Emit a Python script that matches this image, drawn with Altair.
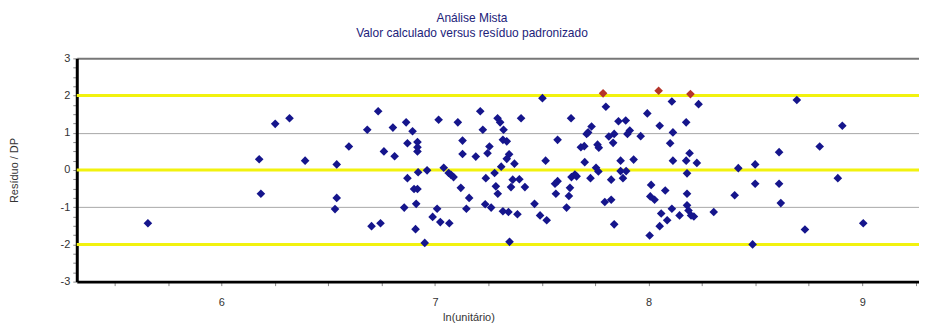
import altair as alt
import pandas as pd

# ---- data ----
ln_unitario = [
    5.656, 6.177, 6.185, 6.252, 6.319, 6.392, 6.540, 6.540, 6.532, 6.597,
    6.683, 6.734, 6.761, 6.811, 6.803, 6.865, 6.895, 6.871, 6.918, 6.918,
    6.918, 6.921, 6.871, 6.902, 6.918, 6.912, 6.856, 6.703, 6.745, 6.909,
    6.952, 7.017, 7.107, 7.212, 7.224, 7.293, 7.305, 7.321, 7.403, 7.503,
    7.129, 7.129, 7.191, 7.255, 7.246, 7.318, 7.336, 7.347, 7.336, 7.372,
    7.310, 7.279, 6.963, 7.041, 7.064, 7.075, 7.087, 7.238, 7.285, 7.294,
    7.364, 7.395, 7.356, 7.421, 7.121, 7.160, 7.010, 7.147, 7.235, 7.263,
    7.318, 7.344, 7.386, 7.466, 6.989, 7.025, 7.067, 7.492, 7.523, 7.349,
    7.787, 8.047, 8.196, 7.800, 7.637, 7.859, 7.893, 7.994, 8.052, 7.733,
    7.717, 7.710, 7.912, 7.901, 7.839, 7.814, 7.834, 7.963, 7.574, 7.683,
    7.699, 7.761, 7.767, 7.518, 7.701, 7.869, 7.930, 7.754, 7.765, 7.869,
    7.895, 7.880, 7.825, 7.728, 7.639, 7.663, 7.655, 7.574, 7.632, 7.566,
    7.627, 7.795, 7.825, 8.012, 8.008, 8.028, 7.616, 7.839, 8.005, 8.059,
    8.109, 8.234, 8.176, 8.114, 8.101, 8.192, 8.176, 8.114, 8.226, 8.180,
    8.420, 8.499, 8.611, 8.078, 8.180, 8.499, 8.403, 8.611, 8.619, 8.180,
    8.109, 8.187, 8.199, 8.212, 8.145, 8.305, 8.087, 8.052, 8.487, 8.694,
    8.907, 8.801, 8.886, 8.732, 9.005, 7.562,
]
residuo_dp = [
    -1.43, 0.29, -0.64, 1.24, 1.39, 0.25, 0.15, -0.75, -1.05, 0.63,
    1.08, 1.58, 0.50, 0.37, 1.14, 1.28, 1.04, 0.72, 0.75, 0.61,
    0.50, -0.06, -0.22, -0.51, -0.51, -0.91, -1.01, -1.51, -1.43, -1.59,
    -1.96, 1.35, 1.28, 1.58, 1.08, 1.39, 1.28, 1.08, 1.39, 1.93,
    0.79, 0.43, 0.36, 0.63, 0.45, 0.81, 0.77, 0.42, 0.30, 0.17,
    0.09, -0.08, -0.01, 0.06, -0.08, -0.13, -0.19, -0.22, -0.44, -0.64,
    -0.26, -0.25, -0.46, -0.46, -0.48, -0.75, -1.04, -1.04, -0.92, -1.01,
    -1.11, -1.13, -1.19, -0.91, -1.26, -1.40, -1.43, -1.22, -1.35, -1.93,
    2.06, 2.13, 2.04, 1.70, 1.39, 1.31, 1.33, 1.52, 1.19, 1.17,
    1.01, 0.97, 1.06, 0.97, 0.97, 0.90, 0.73, 0.91, 0.81, 0.61,
    0.64, 0.68, 0.60, 0.25, 0.21, 0.25, 0.28, 0.06, -0.04, -0.03,
    -0.03, -0.22, -0.26, -0.22, -0.19, -0.17, -0.12, -0.30, -0.48, -0.64,
    -0.70, -0.86, -0.80, -0.40, -0.71, -0.80, -1.01, -1.46, -1.76, -1.17,
    1.84, 1.77, 1.28, 1.01, 0.72, 0.45, 0.25, 0.25, 0.19, -0.09,
    0.05, 0.15, 0.48, -0.55, -0.64, -0.37, -0.68, -0.37, -0.89, -0.95,
    -1.04, -1.09, -1.22, -1.25, -1.22, -1.13, -1.35, -1.51, -2.00, 1.88,
    1.19, 0.63, -0.22, -1.60, -1.43, -0.37,
]
limites = [-2, 0, 2]
x_dominio = [5.323, 9.266]
y_dominio = [-3, 3]
x_ticks = [5.5, 5.75, 6, 6.25, 6.5, 6.75, 7, 7.25, 7.5, 7.75, 8, 8.25, 8.5, 8.75, 9, 9.25]
y_ticks = [-3, -2.75, -2.5, -2.25, -2, -1.75, -1.5, -1.25, -1, -0.75, -0.5, -0.25, 0,
           0.25, 0.5, 0.75, 1, 1.25, 1.5, 1.75, 2, 2.25, 2.5, 2.75, 3]
titulo = "Análise Mista"
subtitulo = "Valor calculado versus resíduo padronizado"
titulo_x = "ln(unitário)"
titulo_y = "Resíduo / DP"

df = pd.DataFrame({"ln_unitario": ln_unitario, "residuo": residuo_dp})
lim_df = pd.DataFrame({"limite": limites})

FONT = "Liberation Sans"
LABEL_EXPR = "datum.value % 1 === 0 ? '' + datum.value : ''"

x_axis = alt.Axis(
    values=x_ticks, labelExpr=LABEL_EXPR, grid=False, labelOverlap=False,
    domainColor="#000000", domainWidth=3,
    tickColor="#888888", tickSize=4, tickWidth=1,
    labelFont=FONT, labelFontSize=11, labelColor="#333333", labelPadding=11,
    labelFlush=False,
    title=titulo_x, titleFont=FONT, titleFontSize=11, titleFontWeight="normal",
    titleColor="#333333", titleX=393, titleY=36, titleBaseline="middle",
)
y_axis = alt.Axis(
    values=y_ticks, labelExpr=LABEL_EXPR, labelOverlap=False,
    grid=True,
    gridColor={"condition": {"test": "datum.value === 3", "value": "#777777"}, "value": "#a8a8a8"},
    gridWidth={"condition": {"test": "datum.value === 3", "value": 2}, "value": 1},
    gridOpacity={"condition": {"test": "datum.value % 1 === 0", "value": 1}, "value": 0},
    domainColor="#000000", domainWidth=3,
    tickColor="#888888", tickSize=4, tickWidth=1,
    labelFont=FONT, labelFontSize=11, labelColor="#333333", labelPadding=3,
    labelFlush=False,
    title=titulo_y, titleFont=FONT, titleFontSize=11, titleFontWeight="normal",
    titleColor="#333333", titleX=-62, titleY=112, titleBaseline="middle",
)

x_scale = alt.Scale(domain=x_dominio, nice=False, zero=False)
y_scale = alt.Scale(domain=y_dominio, nice=False, zero=False)

pontos = alt.Chart(df).mark_point(shape="diamond", filled=True, size=75, opacity=1).encode(
    x=alt.X("ln_unitario:Q", scale=x_scale, axis=x_axis),
    y=alt.Y("residuo:Q", scale=y_scale, axis=y_axis),
    color=alt.condition("datum.residuo > 2", alt.value("#b5352b"), alt.value("#15158c")),
)

linhas = alt.Chart(lim_df).mark_rule(color="#f2f20e", strokeWidth=3).encode(
    y=alt.Y("limite:Q", scale=y_scale, axis=y_axis),
)

chart = alt.layer(linhas, pontos).properties(
    width=845,
    height=224,
    title=alt.TitleParams(
        text=titulo, subtitle=subtitulo,
        font=FONT, subtitleFont=FONT,
        fontSize=12, subtitleFontSize=12,
        fontWeight="normal", color="#22227a", subtitleColor="#22227a",
        anchor="middle", dx=-26, offset=12, subtitlePadding=3,
    ),
    autosize=alt.AutoSizeParams(type="none"),
    padding={"left": 69, "top": 50, "right": 0, "bottom": 46},
    background="#ffffff",
).configure_view(strokeWidth=0).configure_axis(labelOverlap=False)

chart.save("out.html", embed_options={"renderer": "svg", "actions": False})
